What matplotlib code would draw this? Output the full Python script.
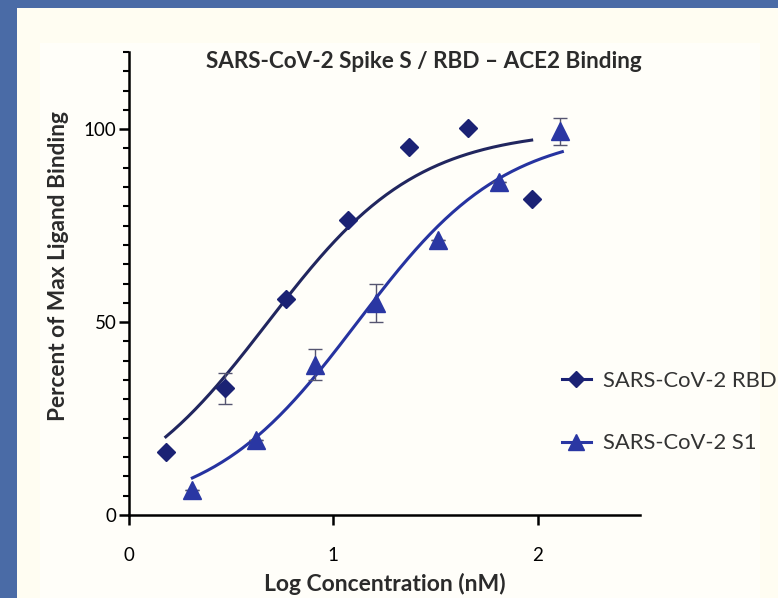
import numpy as np
import matplotlib
matplotlib.use("Agg")
import matplotlib.pyplot as plt
from matplotlib.patches import Rectangle
from matplotlib.ticker import MultipleLocator
from matplotlib.lines import Line2D

plt.rcParams['font.family'] = ['Lato', 'DejaVu Sans']

# ---- data ----
rbd_x = [0.18, 0.47, 0.77, 1.07, 1.37, 1.66, 1.97]
rbd_y = [16.3, 32.8, 56.0, 76.4, 95.4, 100.2, 81.8]
rbd_err = [0.0, 4.0, 0.0, 0.0, 0.0, 0.0, 0.0]

s1_x = [0.31, 0.62, 0.91, 1.21, 1.51, 1.81, 2.11]
s1_y = [6.5, 19.4, 38.9, 55.0, 71.2, 86.3, 99.5]
s1_err = [0.0, 0.0, 4.0, 5.0, 0.0, 0.0, 3.5]

# fitted 4-parameter curves (bottom, top, logEC50, hill), as drawn in the figure
rbd_fit = dict(bottom=0.0, top=100.0, logec50=0.68, hill=1.19, xmin=0.18, xmax=1.97)
s1_fit = dict(bottom=0.0, top=100.0, logec50=1.118, hill=1.205, xmin=0.31, xmax=2.12)

series_labels = ["SARS-CoV-2 RBD", "SARS-CoV-2 S1"]
title = "SARS-CoV-2 Spike S / RBD \u2013 ACE2 Binding"
xlabel = "Log Concentration (nM)"
ylabel = "Percent of Max Ligand Binding"
xticks = [0, 1, 2]
yticks = [0, 50, 100]


def curve(p):
    xs = np.linspace(p['xmin'], p['xmax'], 200)
    ys = p['bottom'] + (p['top'] - p['bottom']) / (1 + 10 ** ((p['logec50'] - xs) * p['hill']))
    return xs, ys


W, H = 778, 598
fig = plt.figure(figsize=(W / 100, H / 100), dpi=100)
fig.patch.set_facecolor('#fffdf2')

# slide frame (blue strips top / left)
fig.add_artist(Rectangle((0, 0), 17 / W, 1, transform=fig.transFigure,
                         facecolor='#4a6ba6', edgecolor='none', zorder=0))
fig.add_artist(Rectangle((0, 1 - 8 / H), 1, 8 / H, transform=fig.transFigure,
                         facecolor='#4a6ba6', edgecolor='none', zorder=0))
# whiter plot region
fig.add_artist(Rectangle((40 / W, 0), 720 / W, 1 - 43 / H, transform=fig.transFigure,
                         facecolor='#ffffff', edgecolor='none', alpha=0.55, zorder=0))

ax = fig.add_axes([129 / W, 1 - 515 / H, 511 / W, 463 / H])
ax.patch.set_alpha(0.0)

marker_color_rbd = '#1b2274'
marker_color_s1 = '#2a37a3'
line_rbd = '#21265f'
line_s1 = '#2633a0'

xs, ys = curve(rbd_fit)
ax.plot(xs, ys, color=line_rbd, lw=2.2, zorder=2)
xs, ys = curve(s1_fit)
ax.plot(xs, ys, color=line_s1, lw=2.2, zorder=2)

ax.errorbar(rbd_x, rbd_y, yerr=rbd_err, fmt='none', ecolor='#555570', elinewidth=1, capsize=5, capthick=1, zorder=3)
ax.errorbar(s1_x, s1_y, yerr=s1_err, fmt='none', ecolor='#555570', elinewidth=1, capsize=5, capthick=1, zorder=3)

ax.plot(rbd_x, rbd_y, linestyle='none', marker='D', markersize=9.5, color=marker_color_rbd, zorder=4)
ax.plot(s1_x, s1_y, linestyle='none', marker='^', markersize=12.5, color=marker_color_s1, zorder=4)

ax.set_xlim(0, 2.5)
ax.set_ylim(0, 120)
for s in ['top', 'right']:
    ax.spines[s].set_visible(False)
for s in ['left', 'bottom']:
    ax.spines[s].set_linewidth(1.8)
ax.set_xticks(xticks)
ax.set_yticks(yticks)
ax.yaxis.set_minor_locator(MultipleLocator(5))
ax.tick_params(axis='both', which='major', length=7, width=1.8, labelsize=13.5, colors='black')
ax.tick_params(axis='y', which='minor', length=4, width=1.5)
ax.tick_params(axis='x', pad=16)
ax.tick_params(axis='y', pad=2)

fig.text(385 / W, 1 - 591 / H, xlabel, ha='center', va='baseline',
         fontsize=16.5, fontweight='bold', color='#2b2b2b')
fig.text(59 / W, 1 - 266 / H, ylabel, rotation=90, ha='center', va='center',
         fontsize=16.3, fontweight='bold', color='#2b2b2b')
fig.text(424 / W, 1 - 62 / H, title, ha='center', va='center',
         fontsize=16.2, fontweight='bold', color='#2b2b2b')

# legend
h1 = Line2D([], [], color=marker_color_rbd, marker='D', markersize=8, lw=2.2)
h2 = Line2D([], [], color=marker_color_s1, marker='^', markersize=11.5, lw=2.2)
leg = fig.legend([h1, h2], series_labels, loc='center left',
                 bbox_to_anchor=(562 / W, 1 - 412 / H), frameon=False,
                 borderaxespad=0, borderpad=0,
                 fontsize=15.8, handlelength=1.3, labelspacing=1.95, handletextpad=0.55)
for t in leg.get_texts():
    t.set_color('#333333')

fig.savefig('out.png', dpi=100, facecolor=fig.get_facecolor())
